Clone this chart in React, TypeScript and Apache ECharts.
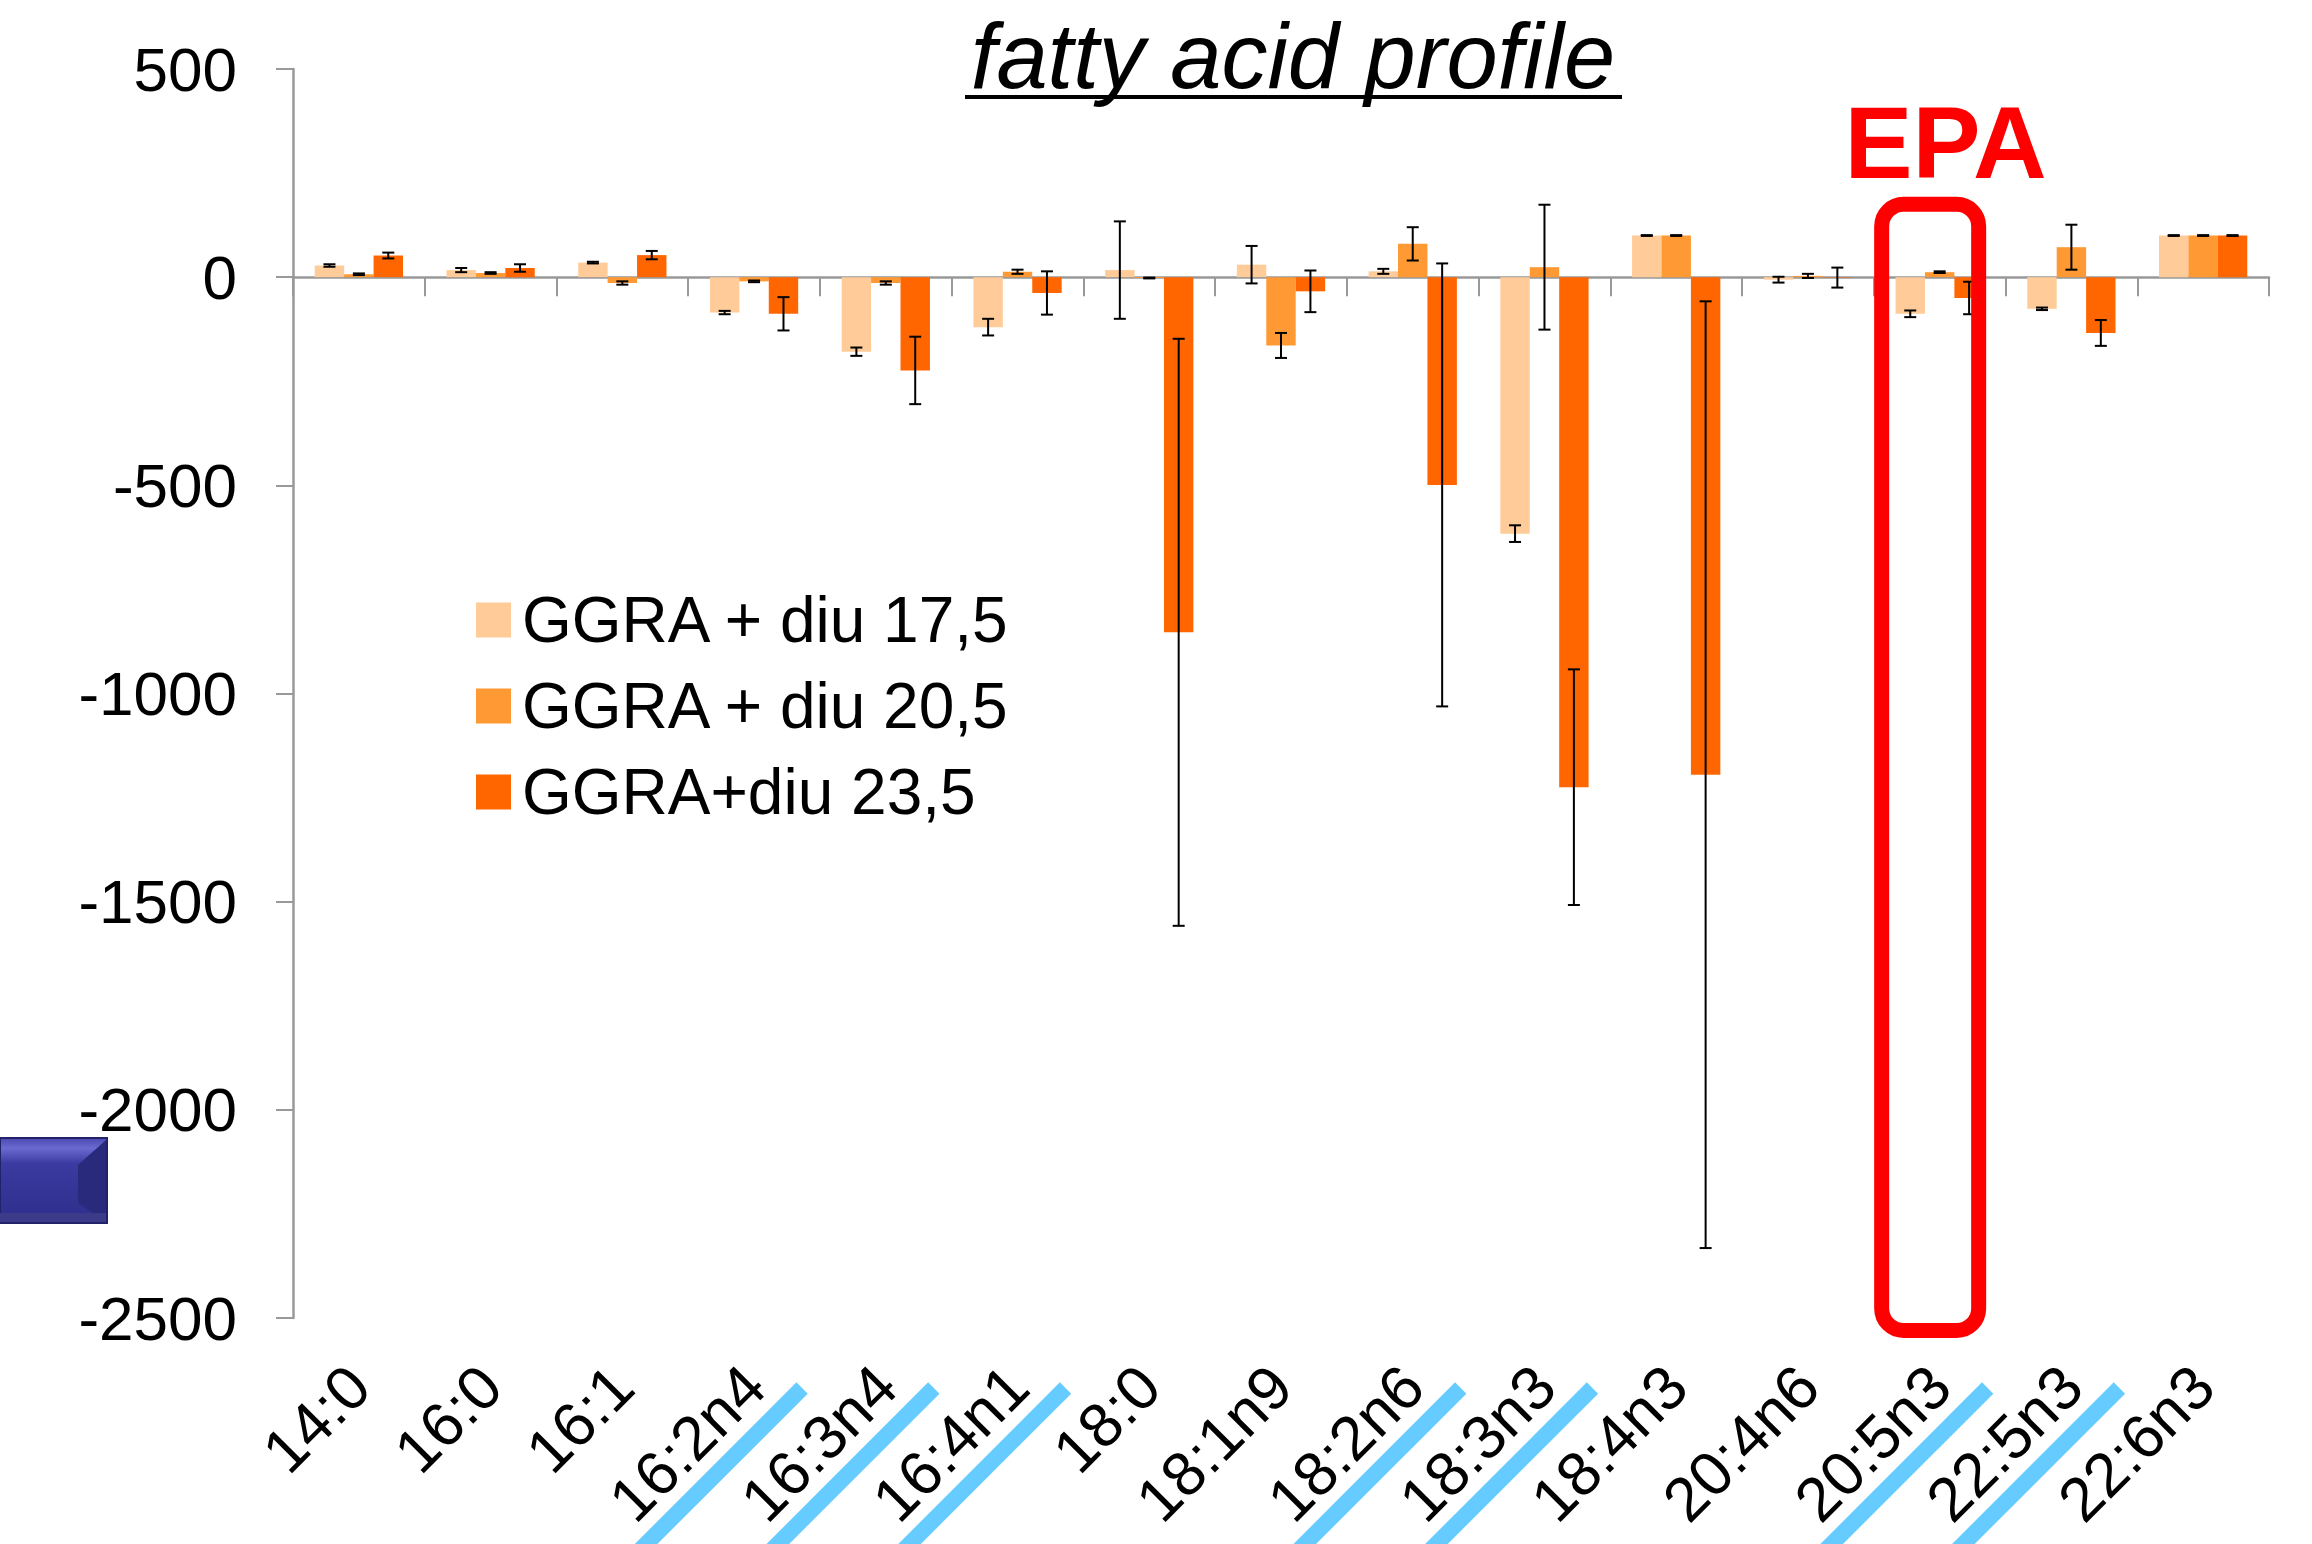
import React, { useEffect, useRef } from "react";
import * as echarts from "echarts";

const categories = ["14:0", "16:0", "16:1", "16:2n4", "16:3n4", "16:4n1", "18:0", "18:1n9", "18:2n6", "18:3n3", "18:4n3", "20:4n6", "20:5n3", "22:5n3", "22:6n3"];
const seriesNames = ["GGRA + diu 17,5", "GGRA + diu 20,5", "GGRA+diu 23,5"];
const diu175 = [28, 17, 35, -85, -179, -120, 17, 30, 14, -616, 100, -6, -88, -76, 100];
const diu175Err = [3, 5, 2, 4, 10, 20, 117, 45, 6, 20, 1, 7, 8, 3, 1];
const diu205 = [7, 10, -14, -10, -14, 13, -2, -164, 80, 24, 100, 3, 12, 72, 100];
const diu205Err = [2, 2, 4, 2, 4, 5, 1, 30, 40, 150, 1, 5, 2, 54, 1];
const diu235 = [52, 22, 53, -88, -224, -38, -853, -34, -499, -1225, -1195, -1, -50, -134, 100];
const diu235Err = [7, 9, 10, 40, 81, 52, 705, 50, 532, 283, 1137, 24, 39, 31, 1];
const underlined = ["16:2n4", "16:3n4", "16:4n1", "18:2n6", "18:3n3", "20:5n3", "22:5n3"];
const highlighted = "20:5n3";
const yMin = -2500;
const yMax = 500;
const yInterval = 500;

const colors = ["#FFCC99", "#FF9933", "#FF6600"];
const FONT = "'Liberation Sans', Arial, sans-serif";
const CAT_GAP = 0.33;

export default function App() {
  const ref = useRef<HTMLDivElement>(null);
  useEffect(() => {
    if (!ref.current) return;
    const chart = echarts.init(ref.current, undefined, { renderer: "svg" });
    const values = [diu175, diu205, diu235];
    const errs = [diu175Err, diu205Err, diu235Err];
    const errData: number[][] = [];
    values.forEach((vals, s) => vals.forEach((v, i) => errData.push([i, v, errs[s][i], s])));

    const option: any = {
      animation: false,
      backgroundColor: "#fff",
      textStyle: { fontFamily: FONT },
      grid: [
        { left: 293, right: 43, top: 69, bottom: 226 },
        { left: 293, right: 43, top: 69, bottom: 226 },
      ],
      legend: {
        orient: "vertical",
        left: 471,
        top: 583,
        icon: "rect",
        itemWidth: 35,
        itemHeight: 35,
        itemGap: 22,
        data: seriesNames,
        textStyle: { fontSize: 64, color: "#000", fontFamily: FONT, lineHeight: 64, padding: [0, 0, 0, 6] },
      },
      xAxis: [
        {
          type: "category",
          gridIndex: 0,
          data: categories,
          axisLine: { onZero: true, lineStyle: { color: "#999", width: 2.5 } },
          axisTick: { show: true, length: 19, lineStyle: { color: "#999", width: 2 } },
          axisLabel: { show: false },
          splitLine: { show: false },
        },
        {
          type: "category",
          gridIndex: 1,
          data: categories,
          position: "bottom",
          axisLine: { show: false, onZero: false },
          axisTick: { show: false },
          axisLabel: { rotate: 45, fontSize: 62, color: "#000", margin: 58, fontFamily: FONT, interval: 0 },
          splitLine: { show: false },
        },
      ],
      yAxis: [
        {
          type: "value",
          gridIndex: 0,
          min: yMin,
          max: yMax,
          interval: yInterval,
          axisLine: { show: true, lineStyle: { color: "#999", width: 2.5 } },
          axisTick: { show: true, length: 17, lineStyle: { color: "#999", width: 2 } },
          axisLabel: { fontSize: 62, color: "#000", margin: 56, fontFamily: FONT, formatter: (v: number) => String(v) },
          splitLine: { show: false },
        },
        { type: "value", gridIndex: 1, min: yMin, max: yMax, interval: yInterval, show: false },
      ],
      series: [
        ...values.map((vals, s) => ({
          type: "bar",
          name: seriesNames[s],
          xAxisIndex: 0,
          yAxisIndex: 0,
          data: vals,
          barGap: "0%",
          barCategoryGap: CAT_GAP * 100 + "%",
          itemStyle: { color: colors[s] },
          z: 2,
        })),
        {
          type: "custom",
          name: "error",
          xAxisIndex: 0,
          yAxisIndex: 0,
          data: errData,
          encode: { x: 0, y: 1 },
          z: 5,
          clip: false,
          renderItem: (params: any, api: any) => {
            const idx = api.value(0);
            const v = api.value(1);
            const e = api.value(2);
            const s = api.value(3);
            const cx = api.coord([idx, 0])[0];
            const catW = api.size([1, 0])[0];
            const barW = (catW * (1 - CAT_GAP)) / 3;
            const x = cx + (s - 1) * barW;
            const yT = api.coord([idx, v + e])[1];
            const yB = api.coord([idx, v - e])[1];
            const hw = 6;
            const st = { stroke: "#000", lineWidth: 2 };
            return {
              type: "group",
              children: [
                { type: "line", shape: { x1: x, y1: yT, x2: x, y2: yB }, style: st },
                { type: "line", shape: { x1: x - hw, y1: yT, x2: x + hw, y2: yT }, style: st },
                { type: "line", shape: { x1: x - hw, y1: yB, x2: x + hw, y2: yB }, style: st },
              ],
            };
          },
        },
      ],
    };
    chart.setOption(option);

    const px = (i: number) => chart.convertToPixel({ xAxisIndex: 0 }, i) as number;
    const py = (v: number) => chart.convertToPixel({ yAxisIndex: 0 }, v) as number;
    const yb = py(yMin);

    const graphics: any[] = [];
    // title
    graphics.push({
      type: "text",
      x: 1293,
      y: 56,
      z: 100,
      style: { text: "fatty acid profile", fontSize: 92, fontStyle: "italic", fontFamily: FONT, fill: "#000", align: "center", verticalAlign: "middle" },
    });
    graphics.push({ type: "line", z: 100, shape: { x1: 965, y1: 97, x2: 1622, y2: 97 }, style: { stroke: "#000", lineWidth: 4 } });

    // blue bands under labels
    const d = Math.SQRT1_2;
    underlined.forEach((c) => {
      const i = categories.indexOf(c);
      const tx = px(i) + 48;
      const ty = yb + 70;
      const h = 8 * d;
      const L = 280;
      const a = [tx + h, ty + h];
      const b = [tx - h, ty - h];
      graphics.push({
        type: "polygon",
        z: 50,
        shape: { points: [a, b, [b[0] - L * d, b[1] + L * d], [a[0] - L * d, a[1] + L * d]] },
        style: { fill: "#66CCFF" },
      });
    });

    // EPA highlight
    const hi = categories.indexOf(highlighted);
    const hcx = px(hi);
    const rTop = py(175);
    const rBot = py(-2530);
    graphics.push({
      type: "rect",
      z: 100,
      shape: { x: hcx - 58, y: rTop, width: 97, height: rBot - rTop, r: 22 },
      style: { fill: "none", stroke: "#FF0000", lineWidth: 15 },
    });
    graphics.push({
      type: "text",
      x: hcx + 6,
      y: 143,
      z: 100,
      style: { text: "EPA", fontSize: 102, fontWeight: "bold", fontFamily: FONT, fill: "#FF0000", align: "center", verticalAlign: "middle" },
    });

    // decorative blue bevel button at left
    graphics.push({
      type: "group",
      z: 100,
      children: [
        {
          type: "rect",
          shape: { x: 0, y: 1138, width: 107, height: 85 },
          style: {
            fill: new echarts.graphic.LinearGradient(0, 0, 0, 1, [
              { offset: 0, color: "#4a4ab0" },
              { offset: 0.12, color: "#6a6ad0" },
              { offset: 0.3, color: "#3a3aa0" },
              { offset: 1, color: "#2e2e8c" },
            ]),
            stroke: "#22226a",
            lineWidth: 2,
          },
        },
        { type: "polygon", shape: { points: [[106, 1140], [106, 1222], [78, 1203], [78, 1165]] }, style: { fill: "#2a2a7c" } },
        { type: "polygon", shape: { points: [[0, 1213], [106, 1213], [106, 1222], [0, 1222]] }, style: { fill: "#3b3b8a" } },
      ],
    });

    chart.setOption({ graphic: graphics });

    return () => chart.dispose();
  }, []);

  return <div ref={ref} style={{ position: "fixed", left: 0, top: 0, width: 2312, height: 1544, background: "#fff" }} />;
}
